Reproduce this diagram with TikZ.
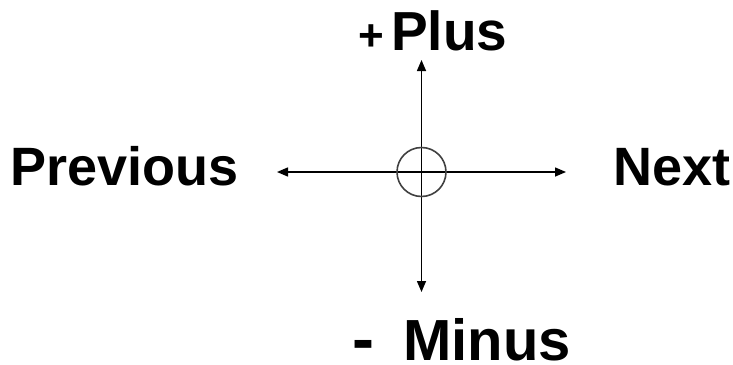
\documentclass[tikz,border=0pt]{standalone}
\usepackage{fontspec}
\setmainfont{Liberation Sans}
\usetikzlibrary{arrows.meta}
\begin{document}
\begin{tikzpicture}[x=1pt,y=-1pt,
  lbl/.style={inner sep=0pt,text depth=0pt,font=\fontsize{54}{60}\selectfont\bfseries},
  axis/.style={line width=1.5pt,-{Triangle[length=11pt,width=9pt]}},
  ring/.style={draw=black!75,line width=1.6pt}]
\useasboundingbox (0,0) rectangle (733,364);
\coordinate (c) at (421.5,172);
\coordinate (up) at (421.5,60);
\coordinate (dn) at (421.5,292);
\coordinate (lt) at (277,172);
\coordinate (rt) at (566,172);
\draw[axis] (c) -- (up);
\draw[axis] (c) -- (dn);
\draw[axis] (c) -- (lt);
\draw[axis] (c) -- (rt);
\node[ring,circle,minimum size=49pt,inner sep=0pt] (o) at (c) {};
\node[lbl,anchor=base west] (prev) at (10,185) {Previous};
\node[lbl,anchor=base west] (next) at (613,185) {Next};
\node[lbl,anchor=base west,font=\fontsize{55}{60}\selectfont\bfseries] (plus) at (391,50) {Plus};
\node[lbl,anchor=base west,font=\fontsize{44}{48}\selectfont\bfseries] (pl) at (358,50) {+};
\node[lbl,anchor=base west,font=\fontsize{58}{62}\selectfont\bfseries] (minus) at (403,360) {Minus};
\node[lbl,anchor=base west,font=\fontsize{66}{70}\selectfont\bfseries] (mi) at (352,361) {-};
\end{tikzpicture}
\end{document}
